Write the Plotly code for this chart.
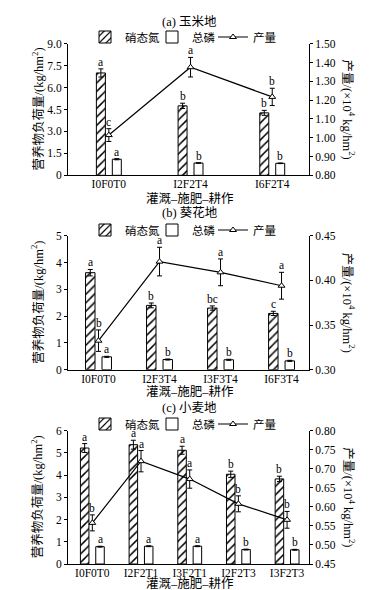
import plotly.graph_objects as go

FONT = "Liberation Serif, Times New Roman, Noto Sans CJK SC"

# ---------------- data ----------------
# (a) 玉米地
a_cats = ["I0F0T0", "I2F2T4", "I6F2T4"]
a_no3 = [7.0, 4.75, 4.27]
a_no3_err = [0.28, 0.18, 0.17]
a_no3_lab = ["a", "b", "b"]
a_tp = [1.1, 0.84, 0.82]
a_tp_err = [0.04, 0.02, 0.02]
a_tp_lab = ["a", "b", "b"]
a_yield = [1.014, 1.375, 1.217]
a_yield_err = [0.034, 0.052, 0.046]
a_yield_lab = ["c", "a", "b"]
a_ltick_vals = [0, 1.5, 3.0, 4.5, 6.0, 7.5, 9.0]
a_ltick_text = ["0", "1.5", "3.0", "4.5", "6.0", "7.5", "9.0"]
a_rtick_vals = [0.80, 0.90, 1.00, 1.10, 1.20, 1.30, 1.40, 1.50]

# (b) 葵花地
b_cats = ["I0F0T0", "I2F3T4", "I3F3T4", "I6F3T4"]
b_no3 = [3.62, 2.4, 2.3, 2.1]
b_no3_err = [0.12, 0.09, 0.08, 0.08]
b_no3_lab = ["a", "b", "bc", "c"]
b_tp = [0.48, 0.38, 0.37, 0.33]
b_tp_err = [0.02, 0.02, 0.02, 0.02]
b_tp_lab = ["a", "b", "b", "b"]
b_yield = [0.3325, 0.421, 0.409, 0.394]
b_yield_err = [0.012, 0.016, 0.015, 0.015]
b_yield_lab = ["b", "a", "a", "a"]
b_ltick_vals = [0, 1, 2, 3, 4, 5]
b_ltick_text = ["0", "1", "2", "3", "4", "5"]
b_rtick_vals = [0.30, 0.35, 0.40, 0.45]

# (c) 小麦地
c_cats = ["I0F0T0", "I2F2T1", "I3F2T1", "I2F2T3", "I3F2T3"]
c_no3 = [5.22, 5.37, 5.12, 4.04, 3.83]
c_no3_err = [0.2, 0.2, 0.18, 0.14, 0.12]
c_no3_lab = ["a", "a", "a", "b", "b"]
c_tp = [0.78, 0.8, 0.8, 0.65, 0.64]
c_tp_err = [0.02, 0.02, 0.02, 0.02, 0.02]
c_tp_lab = ["a", "a", "a", "b", "b"]
c_yield = [0.558, 0.72, 0.673, 0.608, 0.566]
c_yield_err = [0.021, 0.028, 0.024, 0.021, 0.022]
c_yield_lab = ["b", "a", "a", "b", "b"]
c_ltick_vals = [0, 1, 2, 3, 4, 5, 6]
c_ltick_text = ["0", "1", "2", "3", "4", "5", "6"]
c_rtick_vals = [0.45, 0.50, 0.55, 0.60, 0.65, 0.70, 0.75, 0.80]

titles = ["(a) 玉米地", "(b) 葵花地", "(c) 小麦地"]
series_names = ["硝态氮", "总磷", "产量"]
x_title = "灌溉–施肥–耕作"
left_title = "营养物负荷量/(kg/hm<sup>2</sup>)"
right_title = "产量/(×10<sup>4</sup> kg/hm<sup>2</sup>)"

panels = [
    dict(cats=a_cats, no3=a_no3, no3e=a_no3_err, no3l=a_no3_lab, tp=a_tp, tpe=a_tp_err, tpl=a_tp_lab,
         yl=a_yield, yle=a_yield_err, yll=a_yield_lab, lv=a_ltick_vals, lt=a_ltick_text, rv=a_rtick_vals,
         lrange=[0, 9], rrange=[0.80, 1.50], w=0.11, g=0.085,
         top=35.7, bot=167.3, title_y=14, leg_y=29, xt_y=190),
    dict(cats=b_cats, no3=b_no3, no3e=b_no3_err, no3l=b_no3_lab, tp=b_tp, tpe=b_tp_err, tpl=b_tp_lab,
         yl=b_yield, yle=b_yield_err, yll=b_yield_lab, lv=b_ltick_vals, lt=b_ltick_text, rv=b_rtick_vals,
         lrange=[0, 5], rrange=[0.30, 0.45], w=0.155, g=0.115,
         top=227.7, bot=361.7, title_y=205, leg_y=222, xt_y=383),
    dict(cats=c_cats, no3=c_no3, no3e=c_no3_err, no3l=c_no3_lab, tp=c_tp, tpe=c_tp_err, tpl=c_tp_lab,
         yl=c_yield, yle=c_yield_err, yll=c_yield_lab, lv=c_ltick_vals, lt=c_ltick_text, rv=c_rtick_vals,
         lrange=[0, 6], rrange=[0.45, 0.80], w=0.175, g=0.14,
         top=422.7, bot=556, title_y=400, leg_y=416, xt_y=575.5),
]

W, H = 388, 590
XL, XR = 60, 301
LEG_X = [79, 146, 207]   # left edge (px) of each legend entry


def py(px):
    return 1 - px / H


fig = go.Figure()
layout = dict(
    template="none",
    width=W, height=H, margin=dict(l=0, r=0, t=0, b=0),
    paper_bgcolor="white", plot_bgcolor="white",
    font=dict(family=FONT, size=11, color="black"),
    barmode="overlay", annotations=[], showlegend=True,
)

err_style = dict(type="data", color="black", thickness=1, width=2.5)

for i, p in enumerate(panels):
    n = len(p["cats"])
    xs = list(range(n))
    xa = "x" if i == 0 else f"x{i + 1}"
    yl_name = "y" if i == 0 else f"y{2 * i + 1}"
    yr_name = f"y{2 * i + 2}"
    legs = [f"legend{3 * i + j + 2}" for j in range(3)]
    w, g = p["w"], p["g"]

    fig.add_trace(go.Bar(
        x=xs, y=p["no3"], name=series_names[0], xaxis=xa, yaxis=yl_name, legend=legs[0],
        width=w, offset=-(w + g / 2), showlegend=True,
        marker=dict(color="white", line=dict(color="black", width=1),
                    pattern=dict(shape="/", fgcolor="black", bgcolor="white", size=6, solidity=0.25)),
        error_y=dict(array=p["no3e"], **err_style),
    ))
    fig.add_trace(go.Bar(
        x=xs, y=p["tp"], name=series_names[1], xaxis=xa, yaxis=yl_name, legend=legs[1],
        width=w, offset=g / 2, showlegend=True,
        marker=dict(color="white", line=dict(color="black", width=1)),
        error_y=dict(array=p["tpe"], **err_style),
    ))
    fig.add_trace(go.Scatter(
        x=xs, y=p["yl"], name=series_names[2], xaxis=xa, yaxis=yr_name, legend=legs[2],
        mode="lines+markers", showlegend=True,
        line=dict(color="black", width=1.2),
        marker=dict(symbol="triangle-up", size=6, color="white", line=dict(color="black", width=1)),
        error_y=dict(array=p["yle"], **err_style),
    ))

    # significance letters
    for k in range(n):
        layout["annotations"].append(dict(
            x=k - g / 2 - w / 2, y=p["no3"][k] + p["no3e"][k], xref=xa, yref=yl_name,
            text=p["no3l"][k], showarrow=False, yanchor="bottom", yshift=-1, font=dict(size=11.5)))
        layout["annotations"].append(dict(
            x=k + g / 2 + w / 2, y=p["tp"][k] + p["tpe"][k], xref=xa, yref=yl_name,
            text=p["tpl"][k], showarrow=False, yanchor="bottom", yshift=-1, font=dict(size=11.5)))
        layout["annotations"].append(dict(
            x=k, y=p["yl"][k] + p["yle"][k], xref=xa, yref=yr_name,
            text=p["yll"][k], showarrow=False, yanchor="bottom", yshift=-1, font=dict(size=11.5)))

    dom_y = [py(p["bot"]), py(p["top"])]
    xkey = "xaxis" if i == 0 else f"xaxis{i + 1}"
    ylkey = "yaxis" if i == 0 else f"yaxis{2 * i + 1}"
    yrkey = f"yaxis{2 * i + 2}"
    layout[xkey] = dict(
        domain=[XL / W, XR / W], anchor=yl_name, range=[-0.5, n - 1 + 0.45],
        tickvals=xs, ticktext=p["cats"], showline=True, linecolor="black", linewidth=1,
        ticks="", showgrid=False, zeroline=False, tickfont=dict(size=11.5),
        ticklabelstandoff=-2,
    )
    layout[ylkey] = dict(
        domain=dom_y, anchor=xa, range=p["lrange"], tickvals=p["lv"], ticktext=p["lt"],
        showline=True, linecolor="black", linewidth=1, ticks="outside", ticklen=3,
        tickcolor="black", showgrid=False, zeroline=False, tickfont=dict(size=11.5),
    )
    layout[yrkey] = dict(
        overlaying=yl_name, anchor=xa, side="right", range=p["rrange"], tickvals=p["rv"],
        tickformat=".2f", showline=True, linecolor="black", linewidth=1, ticks="outside",
        ticklen=3, tickcolor="black", showgrid=False, zeroline=False, tickfont=dict(size=11.5),
    )
    for j in range(3):
        layout[legs[j]] = dict(
            orientation="h", x=(LEG_X[j] - 2) / W, xanchor="left", y=py(p["leg_y"]), yanchor="middle",
            font=dict(size=11.5), bgcolor="rgba(0,0,0,0)", itemwidth=30, borderwidth=0,
            visible=True,
        )

    # panel title
    layout["annotations"].append(dict(
        x=0.468, y=py(p["title_y"]), xref="paper", yref="paper", text=titles[i],
        showarrow=False, xanchor="center", yanchor="middle", font=dict(size=12.5)))
    # x axis title
    layout["annotations"].append(dict(
        x=182 / W, y=py(p["xt_y"]), xref="paper", yref="paper", text=x_title,
        showarrow=False, xanchor="center", yanchor="middle", font=dict(size=12.5)))
    # left axis title
    layout["annotations"].append(dict(
        x=29 / W, y=(dom_y[0] + dom_y[1]) / 2, xref="paper", yref="paper", text=left_title,
        showarrow=False, xanchor="center", yanchor="middle", textangle=-90, font=dict(size=12.5)))
    # right axis title (reads top to bottom)
    layout["annotations"].append(dict(
        x=341 / W, y=(dom_y[0] + dom_y[1]) / 2, xref="paper", yref="paper", text=right_title,
        showarrow=False, xanchor="center", yanchor="middle", textangle=90, font=dict(size=12.5)))

fig.update_layout(**layout)
fig.write_html("out.html")
